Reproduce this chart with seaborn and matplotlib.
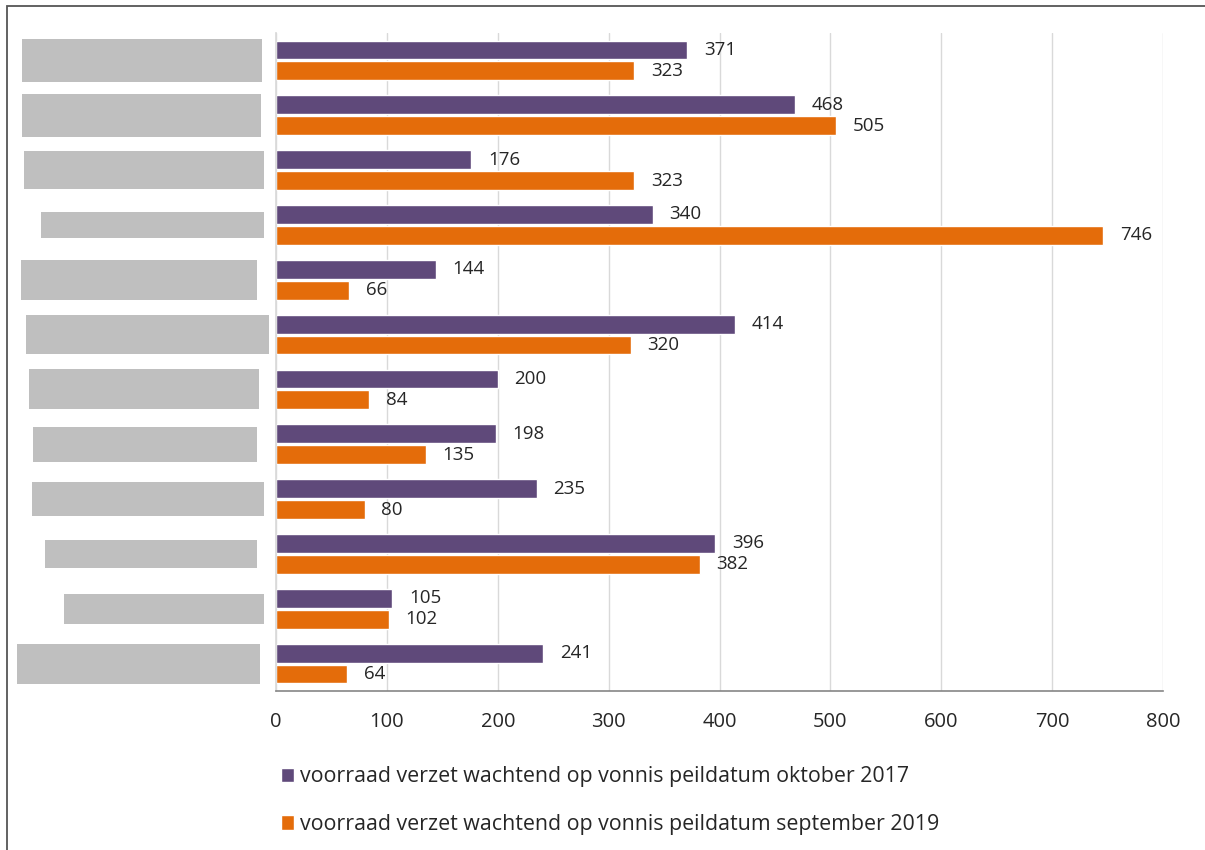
import pandas as pd
import seaborn as sns
import matplotlib.pyplot as plt
from matplotlib.patches import Rectangle
import matplotlib.transforms as mtransforms

# category names are redacted in the source chart (grey boxes)
categories = ["rechtbank 1", "rechtbank 2", "rechtbank 3", "rechtbank 4",
              "rechtbank 5", "rechtbank 6", "rechtbank 7", "rechtbank 8",
              "rechtbank 9", "rechtbank 10", "rechtbank 11", "rechtbank 12"]
oct_2017 = [371, 468, 176, 340, 144, 414, 200, 198, 235, 396, 105, 241]
sep_2019 = [323, 505, 323, 746, 66, 320, 84, 135, 80, 382, 102, 64]
series = ["voorraad verzet wachtend op vonnis peildatum oktober 2017",
          "voorraad verzet wachtend op vonnis peildatum september 2019"]
x_ticks = [0, 100, 200, 300, 400, 500, 600, 700, 800]

# redaction boxes: left/right edge in figure pixels, height as fraction of a row
box_left = [22, 22, 24, 41, 21, 26, 29, 33, 32, 45, 64, 17]
box_right = [262, 261, 264, 264, 257, 269, 259, 257, 264, 257, 264, 260]
box_height = [0.77, 0.78, 0.69, 0.47, 0.73, 0.71, 0.73, 0.64, 0.62, 0.51, 0.55, 0.73]

df = pd.DataFrame({
    "categorie": categories * 2,
    "waarde": oct_2017 + sep_2019,
    "reeks": [series[0]] * len(categories) + [series[1]] * len(categories),
})

sns.set_theme(style="white")
plt.rcParams["font.family"] = ["Open Sans", "DejaVu Sans"]

fig = plt.figure(figsize=(12.05, 8.5), dpi=100)
ax = fig.add_axes([276 / 1205, 1 - 691 / 850, (1163 - 276) / 1205, (691 - 33) / 850])

palette = {series[0]: "#5f497a", series[1]: "#e46c0a"}
sns.barplot(data=df, y="categorie", x="waarde", hue="reeks", orient="h",
            palette=palette, width=0.76, gap=0.1, saturation=1,
            ax=ax, legend=True)

for cont in ax.containers:
    ax.bar_label(cont, padding=12, fontsize=13.5, color="#262626")

ax.set_xlim(0, 800)
ax.set_ylim(len(categories) - 0.5, -0.5)
ax.set_xticks(x_ticks)
ax.set_xticklabels([str(t) for t in x_ticks], fontsize=14.5, color="#262626")
ax.set_yticks(range(len(categories)))
ax.set_yticklabels([""] * len(categories))
ax.tick_params(axis="y", length=0)
ax.tick_params(axis="x", direction="out", length=7, width=1, color="#868686", pad=8)
ax.set_xlabel("")
ax.set_ylabel("")
ax.xaxis.grid(True, color="#d9d9d9", linewidth=1)
ax.set_axisbelow(True)
for side in ["top", "right"]:
    ax.spines[side].set_visible(False)
ax.spines["left"].set_color("#d9d9d9")
ax.spines["bottom"].set_color("#868686")
ax.spines["bottom"].set_linewidth(1.2)

# grey redaction boxes in place of the category labels
trans = mtransforms.blended_transform_factory(fig.transFigure, ax.transData)
for i in range(len(categories)):
    l = box_left[i] / 1205
    w = (box_right[i] - box_left[i]) / 1205
    h = box_height[i]
    fig.patches.append(Rectangle((l, i - h / 2), w, h, transform=trans,
                                 facecolor="#bfbfbf", edgecolor="none"))

# legend below the plot
handles, labels = ax.get_legend_handles_labels()
ax.get_legend().remove()
fig.legend(handles, labels, loc="center left", bbox_to_anchor=(0.217, 0.058),
           frameon=False, fontsize=15.4, handlelength=0.64, handleheight=0.64,
           handletextpad=0.25, labelspacing=1.25, labelcolor="#262626")

# outer frame
fig.patches.append(Rectangle((7 / 1205, -0.1), 1.2, 1 - 6 / 850 + 0.1,
                             transform=fig.transFigure, fill=False,
                             edgecolor="#555555", linewidth=1.3))

fig.savefig("out.png", dpi=100)
